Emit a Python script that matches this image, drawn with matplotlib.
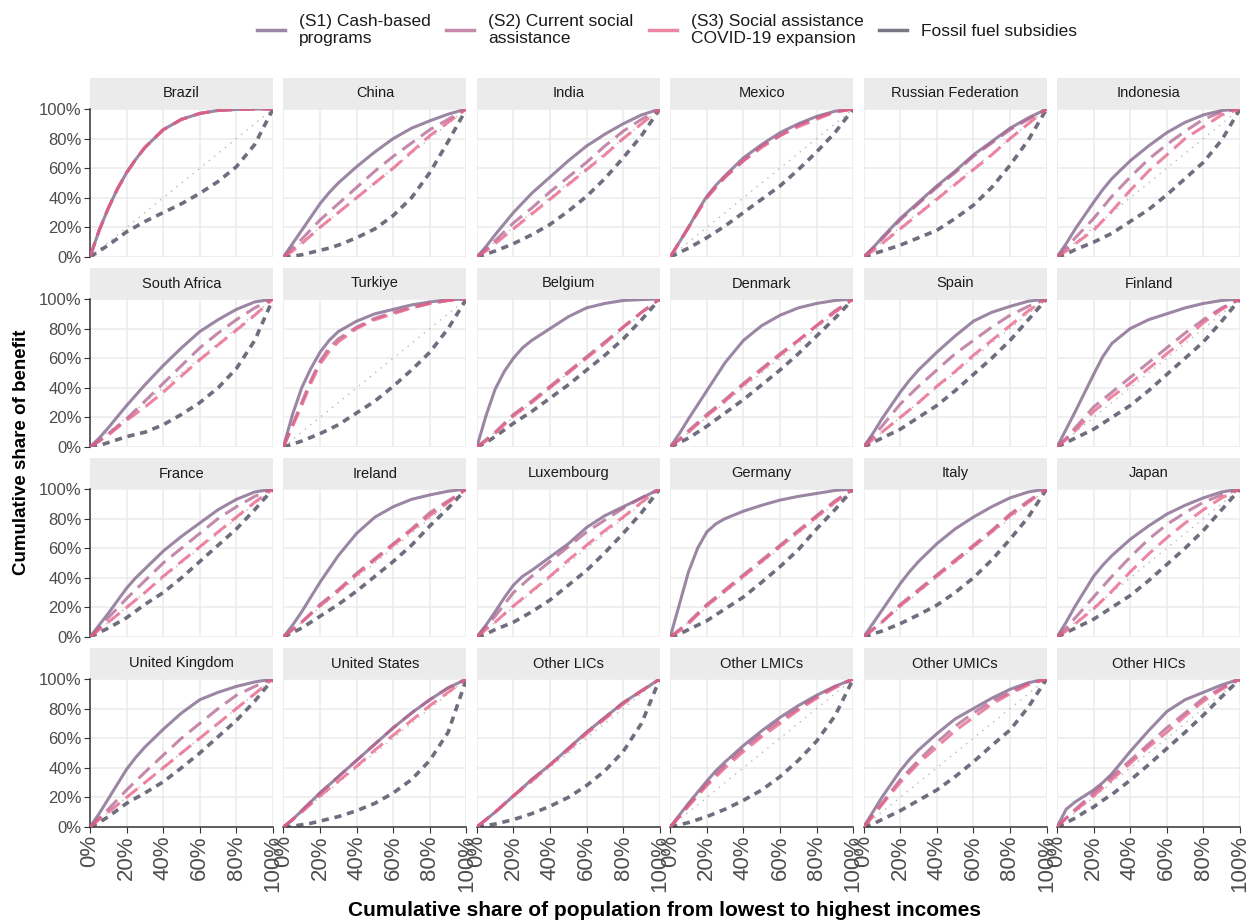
import matplotlib
matplotlib.use("Agg")
import matplotlib.pyplot as plt
from matplotlib.patches import Rectangle
from matplotlib.lines import Line2D
import numpy as np

plt.rcParams['font.family'] = ['Liberation Sans', 'DejaVu Sans']

# population share (x) where the curves were read
pop_share = [0, 0.05, 0.1, 0.15, 0.2, 0.25, 0.3, 0.4, 0.5, 0.6, 0.7, 0.8, 0.9, 1.0]

countries = ["Brazil", "China", "India", "Mexico", "Russian Federation", "Indonesia",
             "South Africa", "Turkiye", "Belgium", "Denmark", "Spain", "Finland",
             "France", "Ireland", "Luxembourg", "Germany", "Italy", "Japan",
             "United Kingdom", "United States", "Other LICs", "Other LMICs", "Other UMICs", "Other HICs"]

# cumulative share of benefit, in %
s1_cash = {
    "Brazil": [0, 18, 33, 46, 57, 66, 74, 86, 93, 97, 99, 99.7, 100, 100],
    "China": [0, 9, 18, 27, 36, 43.5, 50, 61, 71, 80, 87, 92, 96.5, 100],
    "India": [0, 7, 15, 22.5, 30, 36.5, 43, 54, 65, 75, 83, 90, 96, 100],
    "Mexico": [0, 10, 20, 31, 41, 48.5, 55, 67, 76, 84, 90, 95, 98.5, 100],
    "Russian Federation": [0, 6, 13, 19.5, 26, 31.5, 37, 48, 58, 69, 78, 87, 94, 100],
    "Indonesia": [0, 9, 19, 28, 37, 45.5, 53, 65, 75, 84, 91, 96, 99, 100],
    "South Africa": [0, 6, 13, 20.5, 28, 35, 42, 55, 67, 78, 86, 93, 98, 100],
    "Turkiye": [0, 22, 40, 53, 64, 72, 78, 85, 90, 93, 96, 98, 99.5, 100],
    "Belgium": [0, 21, 39, 51, 60, 67, 72, 80, 88, 94, 97, 99, 99.6, 100],
    "Denmark": [0, 9, 19, 28.5, 38, 47.5, 57, 72, 82, 89, 94, 97, 99, 100],
    "Spain": [0, 9, 19, 28, 37, 45, 52, 64, 75, 85, 91, 95, 98.5, 100],
    "Finland": [0, 12, 24, 36.5, 49, 61, 70, 80, 86, 90, 94, 97, 99, 100],
    "France": [0, 8, 16, 24.5, 33, 40, 46, 58, 68, 77, 86, 93, 98, 100],
    "Ireland": [0, 8, 17, 27, 37, 46, 55, 70, 81, 88, 93, 96, 98.5, 100],
    "Luxembourg": [0, 8, 17, 26.5, 35, 41, 45, 54, 63, 74, 82, 88, 94, 100],
    "Germany": [0, 22, 44, 60, 71, 76.5, 80, 85, 89, 92.5, 95, 97, 99, 100],
    "Italy": [0, 9, 18, 27, 36, 44, 51, 63, 73, 81, 88, 94, 98, 100],
    "Japan": [0, 10, 21, 31, 41, 48.5, 55, 66, 75, 83, 89, 94, 98, 100],
    "United Kingdom": [0, 9, 19, 29, 39, 47, 54, 66, 77, 86, 91, 95, 98, 100],
    "United States": [0, 5, 11, 17, 23, 28.5, 34, 45, 56, 67, 77, 86, 94, 100],
    "Other LICs": [0, 5, 10, 15.5, 21, 26.5, 32, 42, 53, 64, 74, 84, 92, 100],
    "Other LMICs": [0, 8, 16, 23.5, 31, 38, 44, 55, 65, 74, 82, 89, 95, 100],
    "Other UMICs": [0, 10, 20, 29, 38, 45.5, 52, 63, 73, 80, 87, 93, 97.5, 100],
    "Other HICs": [0, 12, 17, 21, 25, 30, 36, 51, 65, 78, 86, 91, 96, 100],
}

s2_current = {
    "Brazil": [0, 18, 33, 46, 57, 66, 74, 86, 93, 97, 99, 99.7, 100, 100],
    "China": [0, 6, 12, 18.5, 25, 30.5, 36, 47, 58, 68, 77, 86, 93, 100],
    "India": [0, 5, 11, 17, 23, 28, 33, 44, 54, 64, 75, 85, 93, 100],
    "Mexico": [0, 10, 20, 30.5, 40, 47.5, 54, 65, 75, 82, 89, 94, 98, 100],
    "Russian Federation": [0, 6, 12, 18.5, 25, 30.5, 36, 47, 57, 68, 77, 86, 93, 100],
    "Indonesia": [0, 6, 13, 19.5, 26, 33.5, 41, 54, 66, 76, 85, 93, 98, 100],
    "South Africa": [0, 4, 9, 14, 19, 25, 31, 43, 55, 67, 77, 86, 94, 100],
    "Turkiye": [0, 15, 30, 45, 58, 67, 73, 81, 87, 91, 94, 97, 99, 100],
    "Belgium": [0, 5, 10, 16, 22, 26.5, 31, 41, 51, 61, 71, 81, 91, 100],
    "Denmark": [0, 5, 11, 16.5, 22, 27, 32, 43, 53, 63, 72, 82, 92, 100],
    "Spain": [0, 7, 14, 21.5, 29, 35, 41, 52, 63, 72, 81, 89, 95, 100],
    "Finland": [0, 6, 13, 20, 27, 32, 37, 47, 57, 67, 77, 86, 94, 100],
    "France": [0, 6, 13, 19.5, 26, 32, 38, 50, 60, 70, 80, 88, 95, 100],
    "Ireland": [0, 5, 10, 16, 22, 27, 32, 43, 53, 63, 73, 84, 92, 100],
    "Luxembourg": [0, 7, 14, 22, 30, 35.5, 41, 51, 61, 71, 79, 87, 94, 100],
    "Germany": [0, 5, 10, 16, 22, 27, 32, 42, 52, 62, 72, 82, 92, 100],
    "Italy": [0, 5, 10, 16, 22, 27, 32, 42, 52, 62, 72, 83, 92, 100],
    "Japan": [0, 6, 13, 20, 27, 34, 41, 54, 66, 76, 84, 91, 96, 100],
    "United Kingdom": [0, 6, 12, 18.5, 25, 31, 37, 48.5, 60, 70, 80, 89, 95, 100],
    "United States": [0, 5, 11, 17, 23, 28.5, 34, 45, 56, 67, 77, 86, 94, 100],
    "Other LICs": [0, 5, 10, 15.5, 21, 26.5, 32, 42, 53, 64, 74, 84, 92, 100],
    "Other LMICs": [0, 7, 15, 22, 29, 35.5, 42, 53, 63, 72, 80, 88, 95, 100],
    "Other UMICs": [0, 8, 16, 24, 32, 38.5, 45, 57, 68, 77, 85, 91, 97, 100],
    "Other HICs": [0, 6, 12, 17.5, 23, 28.5, 34, 45, 56, 67, 77, 87, 94, 100],
}

s3_covid = {
    "Brazil": [0, 18, 33, 46, 57, 66, 74, 86, 93, 97, 99, 99.7, 100, 100],
    "China": [0, 4, 9, 14.5, 20, 25, 30, 40, 50, 60, 71, 82, 91, 100],
    "India": [0, 4, 9, 14, 19, 24, 29, 39, 49, 59, 69, 80, 90, 100],
    "Mexico": [0, 10, 20, 30, 40, 47, 54, 65, 74, 82, 88, 93, 98, 100],
    "Russian Federation": [0, 4, 9, 14, 19, 24, 29, 39, 49, 59, 69, 80, 90, 100],
    "Indonesia": [0, 4, 9, 13.5, 18, 24.5, 31, 45, 58, 69, 80, 88, 96, 100],
    "South Africa": [0, 4, 8, 13, 18, 22.5, 27, 37, 48, 59, 69, 79, 89, 100],
    "Turkiye": [0, 14, 28, 43, 56, 64.5, 71, 80, 86, 90, 94, 97, 99, 100],
    "Belgium": [0, 4, 9, 15, 21, 25.5, 30, 40, 50, 60, 70, 81, 91, 100],
    "Denmark": [0, 5, 10, 15.5, 21, 26, 31, 42, 52, 62, 72, 82, 91, 100],
    "Spain": [0, 5, 10, 15, 20, 25, 30, 41, 51, 62, 72, 82, 92, 100],
    "Finland": [0, 5, 11, 17.5, 24, 29, 34, 43, 53, 63, 73, 84, 93, 100],
    "France": [0, 5, 10, 15, 20, 25, 30, 41, 51, 61, 71, 81, 91, 100],
    "Ireland": [0, 5, 10, 15.5, 21, 26, 31, 42, 52, 62, 72, 82, 91, 100],
    "Luxembourg": [0, 5, 10, 15.5, 21, 26, 31, 41, 52, 62, 72, 81, 91, 100],
    "Germany": [0, 4, 9, 15, 21, 26, 31, 41, 51, 61, 71, 81, 91, 100],
    "Italy": [0, 5, 10, 15.5, 21, 26, 31, 41, 51, 61, 71, 82, 91, 100],
    "Japan": [0, 4, 9, 14, 19, 25, 31, 44, 56, 67, 77, 86, 94, 100],
    "United Kingdom": [0, 5, 10, 15, 20, 25, 30, 40, 50, 60, 70, 80, 90, 100],
    "United States": [0, 5, 10, 15.5, 21, 26, 31, 41, 52, 62, 72, 82, 91, 100],
    "Other LICs": [0, 5, 10, 15.5, 21, 26, 31, 42, 52, 63, 73, 83, 92, 100],
    "Other LMICs": [0, 7, 14, 21, 28, 34, 40, 51, 61, 70, 79, 87, 94, 100],
    "Other UMICs": [0, 7, 15, 22.5, 30, 36.5, 43, 54, 65, 74, 83, 90, 96, 100],
    "Other HICs": [0, 6, 11, 16, 21, 26.5, 32, 43, 54, 64, 75, 85, 93, 100],
}

fossil = {
    "Brazil": [0, 4, 8, 12.5, 17, 20.5, 24, 30, 36, 43, 51, 61, 76, 100],
    "China": [0, 0.5, 1.5, 3, 4.5, 6, 8, 13, 19, 28, 40, 57, 78, 100],
    "India": [0, 2, 4, 6.5, 9, 12, 15, 22, 31, 41, 53, 67, 82, 100],
    "Mexico": [0, 3, 6, 9.5, 13, 17, 21, 30, 39, 48, 59, 71, 84, 100],
    "Russian Federation": [0, 2, 4, 6, 8, 10.5, 13, 18, 26, 35, 47, 62, 79, 100],
    "Indonesia": [0, 2, 5, 7.5, 10, 13, 16, 24, 32, 42, 53, 64, 79, 100],
    "South Africa": [0, 1, 3, 5, 7, 8.5, 10, 15, 22, 30, 40, 53, 72, 100],
    "Turkiye": [0, 2, 4, 6.5, 9, 12, 15, 23, 31, 41, 52, 64, 80, 100],
    "Belgium": [0, 3, 7, 11.5, 16, 20, 24, 33, 42, 52, 62, 73, 86, 100],
    "Denmark": [0, 3, 6, 10, 14, 18.5, 23, 32, 42, 52, 63, 75, 87, 100],
    "Spain": [0, 3, 6, 9, 12, 16, 20, 28, 38, 49, 60, 72, 86, 100],
    "Finland": [0, 3, 6, 9, 12, 16, 20, 28, 38, 49, 60, 71, 85, 100],
    "France": [0, 3, 6, 9.5, 13, 17.5, 22, 30, 40, 51, 62, 73, 86, 100],
    "Ireland": [0, 3, 6, 10, 14, 18, 22, 31, 41, 51, 62, 75, 87, 100],
    "Luxembourg": [0, 2, 5, 7.5, 10, 13.5, 17, 25, 35, 45, 57, 70, 84, 100],
    "Germany": [0, 2, 5, 8, 11, 15, 19, 27, 37, 47.5, 59, 73, 86, 100],
    "Italy": [0, 2, 4, 6.5, 9, 12, 15, 21.5, 30, 40, 52, 66, 81, 100],
    "Japan": [0, 3, 6, 9, 12, 16, 20, 28, 38, 49, 60, 72, 86, 100],
    "United Kingdom": [0, 3, 7, 11.5, 16, 19.5, 23, 30.5, 40, 50, 61, 72, 85, 100],
    "United States": [0, 0.5, 1.5, 2.5, 4, 5.5, 7, 11, 16, 23, 32, 45, 64, 100],
    "Other LICs": [0, 1, 2, 3.5, 5, 7, 9, 14, 20, 28, 38, 51, 70, 100],
    "Other LMICs": [0, 1.5, 3, 5, 7, 9.5, 12, 18, 25, 34, 45, 58, 75, 100],
    "Other UMICs": [0, 2, 5, 8, 11, 14.5, 18, 25, 34, 44, 55, 65.5, 81, 100],
    "Other HICs": [0, 3, 6, 10, 13.5, 18, 22, 31.6, 42, 53, 64, 75.6, 88, 100],
}

series_labels = ["(S1) Cash-based\nprograms", "(S2) Current social\nassistance",
                 "(S3) Social assistance\nCOVID-19 expansion", "Fossil fuel subsidies"]
series_colors = ["#7a5f86", "#b0628f", "#e85d85", "#4a4a5e"]

W, H = 1251, 922
fig = plt.figure(figsize=(W / 100, H / 100), dpi=100)

left0, col_step, pw = 90, 193.4, 183
top0, row_step, ph = 109, 190, 148
strip_h = 31

x = np.array(pop_share)
ticks = [0, 0.2, 0.4, 0.6, 0.8, 1.0]
tick_lbl = ["0%", "20%", "40%", "60%", "80%", "100%"]

for k, name in enumerate(countries):
    r, c = divmod(k, 6)
    lft = left0 + c * col_step
    top = top0 + r * row_step
    ax = fig.add_axes([lft / W, 1 - (top + ph) / H, pw / W, ph / H])
    ax.set_xlim(0, 1)
    ax.set_ylim(0, 1)
    ax.set_xticks(ticks)
    ax.set_yticks(ticks)
    ax.grid(True, color="#ebebeb", lw=1.1, zorder=0)
    ax.set_axisbelow(True)
    for sp in ax.spines.values():
        sp.set_visible(False)

    ax.plot([0, 1], [0, 1], color="#b8b8b8", lw=1.0, ls=(0, (1, 4)), zorder=1)
    ax.plot(x, np.array(fossil[name]) / 100, color=series_colors[3], lw=2.6,
            ls=(0, (2.0, 1.6)), alpha=0.8, zorder=2)
    ax.plot(x, np.array(s1_cash[name]) / 100, color=series_colors[0], lw=2.2,
            alpha=0.75, zorder=3, solid_capstyle="round", solid_joinstyle="round")
    ax.plot(x, np.array(s2_current[name]) / 100, color=series_colors[1], lw=2.2,
            ls=(0, (5, 2.5)), alpha=0.75, zorder=4)
    ax.plot(x, np.array(s3_covid[name]) / 100, color=series_colors[2], lw=2.2,
            ls=(0, (5, 2.5)), alpha=0.75, zorder=5)

    # strip
    ax.add_patch(Rectangle((0, 1), 1, strip_h / ph, transform=ax.transAxes,
                           facecolor="#ebebeb", edgecolor="none", clip_on=False))
    ax.text(0.5, 1 + strip_h / ph / 2, name, transform=ax.transAxes,
            ha="center", va="center", fontsize=10.5, color="#1a1a1a")

    if c == 0:
        ax.spines["left"].set_visible(True)
        ax.spines["left"].set_color("#333333")
        ax.spines["left"].set_linewidth(1.1)
        ax.set_yticklabels(tick_lbl, fontsize=12, color="#4d4d4d")
        ax.tick_params(axis="y", length=4, color="#333333", pad=2)
    else:
        ax.tick_params(axis="y", length=0, labelleft=False)
    if r == 3:
        ax.spines["bottom"].set_visible(True)
        ax.spines["bottom"].set_color("#333333")
        ax.spines["bottom"].set_linewidth(1.1)
        ax.set_xticklabels(tick_lbl, fontsize=16, color="#4d4d4d", rotation=90)
        ax.tick_params(axis="x", length=4, color="#333333", pad=2)
    else:
        ax.tick_params(axis="x", length=0, labelbottom=False)

fig.text(22 / W, 1 - 452 / H, "Cumulative share of benefit", rotation=90,
         ha="center", va="center", fontsize=13.5, fontweight="bold", color="black")
fig.text(664 / W, 1 - 910 / H, "Cumulative share of population from lowest to highest incomes",
         ha="center", va="center", fontsize=15, fontweight="bold", color="black")

handles = [Line2D([], [], color=series_colors[i], lw=2.5, alpha=0.75) for i in range(4)]
fig.legend(handles, series_labels, loc="center", bbox_to_anchor=(667 / W, 1 - 30 / H),
           ncol=4, frameon=False, fontsize=12.5, handlelength=1.6, columnspacing=0.9,
           handletextpad=0.8, labelcolor="#1a1a1a")

fig.savefig("out.png", dpi=100, facecolor="white")
